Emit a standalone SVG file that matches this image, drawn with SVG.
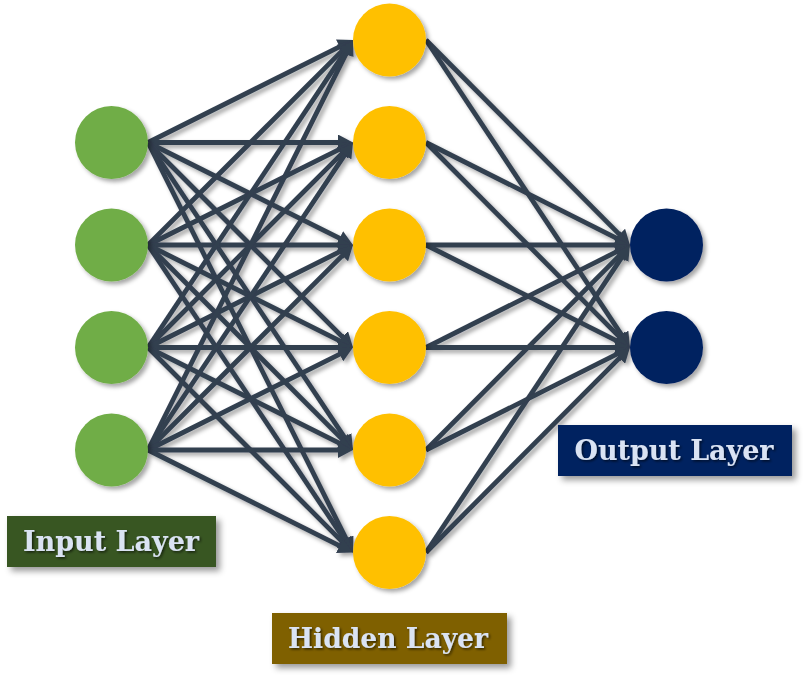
<svg xmlns="http://www.w3.org/2000/svg" width="809" height="690" viewBox="0 0 809 690">
  <style>
    .edge { stroke: #333f50; stroke-width: 4.8; fill: none; marker-end: url(#arrow); }
    .in { fill: #70ad47; }
    .hid { fill: #ffc000; }
    .out { fill: #002060; }
    .label { font-family: "DejaVu Serif", "Liberation Serif", serif; font-weight: bold; font-size: 27px; fill: #dae3f3; text-anchor: middle; }
  </style>
  <defs>
    <marker id="arrow" viewBox="0 0 15 16" markerWidth="15" markerHeight="16" markerUnits="userSpaceOnUse" refX="7" refY="8" orient="auto">
      <path d="M0,0 L15,8 L0,16 z" fill="#333f50"/>
    </marker>
    <filter id="shadow" x="-20%" y="-20%" width="140%" height="140%">
      <feDropShadow dx="3" dy="3" stdDeviation="2" flood-color="#000" flood-opacity="0.35"/>
    </filter>
    <filter id="boxShadow" x="-10%" y="-20%" width="130%" height="160%">
      <feDropShadow dx="4" dy="4" stdDeviation="3" flood-color="#000" flood-opacity="0.4"/>
    </filter>
    <filter id="textShadow" x="-10%" y="-30%" width="120%" height="160%">
      <feDropShadow dx="1.5" dy="1.5" stdDeviation="0.8" flood-color="#000" flood-opacity="0.6"/>
    </filter>
  </defs>
  <rect width="809" height="690" fill="#ffffff"/>

  <!-- connectors -->
  <g id="connectors" filter="url(#shadow)">
    <!-- input 1 -->
    <line class="edge" x1="148" y1="142.5" x2="345.84" y2="43.58"/>
    <line class="edge" x1="148" y1="142.5" x2="345" y2="142.5"/>
    <line class="edge" x1="148" y1="142.5" x2="345.84" y2="241.42"/>
    <line class="edge" x1="148" y1="142.5" x2="347.34" y2="341.84"/>
    <line class="edge" x1="148" y1="142.5" x2="348.56" y2="443.34"/>
    <line class="edge" x1="148" y1="142.5" x2="349.42" y2="545.34"/>
    <!-- input 2 -->
    <line class="edge" x1="148" y1="245" x2="347.34" y2="45.66"/>
    <line class="edge" x1="148" y1="245" x2="345.84" y2="146.08"/>
    <line class="edge" x1="148" y1="245" x2="345" y2="245"/>
    <line class="edge" x1="148" y1="245" x2="345.84" y2="343.92"/>
    <line class="edge" x1="148" y1="245" x2="347.34" y2="444.34"/>
    <line class="edge" x1="148" y1="245" x2="348.56" y2="545.84"/>
    <!-- input 3 -->
    <line class="edge" x1="148" y1="347.5" x2="348.56" y2="46.66"/>
    <line class="edge" x1="148" y1="347.5" x2="347.34" y2="148.16"/>
    <line class="edge" x1="148" y1="347.5" x2="345.84" y2="248.58"/>
    <line class="edge" x1="148" y1="347.5" x2="345" y2="347.5"/>
    <line class="edge" x1="148" y1="347.5" x2="345.84" y2="446.42"/>
    <line class="edge" x1="148" y1="347.5" x2="347.34" y2="546.84"/>
    <!-- input 4 -->
    <line class="edge" x1="148" y1="450" x2="349.42" y2="47.16"/>
    <line class="edge" x1="148" y1="450" x2="348.56" y2="149.16"/>
    <line class="edge" x1="148" y1="450" x2="347.34" y2="250.66"/>
    <line class="edge" x1="148" y1="450" x2="345.84" y2="351.08"/>
    <line class="edge" x1="148" y1="450" x2="345" y2="450"/>
    <line class="edge" x1="148" y1="450" x2="345.84" y2="548.92"/>
    <!-- hidden to output 1 -->
    <line class="edge" x1="426" y1="40" x2="624.34" y2="239.34"/>
    <line class="edge" x1="426" y1="142.5" x2="622.84" y2="241.42"/>
    <line class="edge" x1="426" y1="245" x2="622" y2="245"/>
    <line class="edge" x1="426" y1="347.5" x2="622.84" y2="248.58"/>
    <line class="edge" x1="426" y1="450" x2="624.34" y2="250.66"/>
    <line class="edge" x1="426" y1="552.5" x2="625.56" y2="251.66"/>
    <!-- hidden to output 2 -->
    <line class="edge" x1="426" y1="40" x2="625.56" y2="340.84"/>
    <line class="edge" x1="426" y1="142.5" x2="624.34" y2="341.84"/>
    <line class="edge" x1="426" y1="245" x2="622.84" y2="343.92"/>
    <line class="edge" x1="426" y1="347.5" x2="622" y2="347.5"/>
    <line class="edge" x1="426" y1="450" x2="622.84" y2="351.08"/>
    <line class="edge" x1="426" y1="552.5" x2="624.34" y2="353.16"/>
  </g>

  <!-- input layer -->
  <g id="in1" filter="url(#shadow)"><circle class="in" cx="111.5" cy="142.5" r="36.5"/></g>
  <g id="in2" filter="url(#shadow)"><circle class="in" cx="111.5" cy="245" r="36.5"/></g>
  <g id="in3" filter="url(#shadow)"><circle class="in" cx="111.5" cy="347.5" r="36.5"/></g>
  <g id="in4" filter="url(#shadow)"><circle class="in" cx="111.5" cy="450" r="36.5"/></g>

  <!-- hidden layer -->
  <g id="h1" filter="url(#shadow)"><circle class="hid" cx="389.5" cy="40" r="36.5"/></g>
  <g id="h2" filter="url(#shadow)"><circle class="hid" cx="389.5" cy="142.5" r="36.5"/></g>
  <g id="h3" filter="url(#shadow)"><circle class="hid" cx="389.5" cy="245" r="36.5"/></g>
  <g id="h4" filter="url(#shadow)"><circle class="hid" cx="389.5" cy="347.5" r="36.5"/></g>
  <g id="h5" filter="url(#shadow)"><circle class="hid" cx="389.5" cy="450" r="36.5"/></g>
  <g id="h6" filter="url(#shadow)"><circle class="hid" cx="389.5" cy="552.5" r="36.5"/></g>

  <!-- output layer -->
  <g id="o1" filter="url(#shadow)"><circle class="out" cx="666.5" cy="245" r="36.5"/></g>
  <g id="o2" filter="url(#shadow)"><circle class="out" cx="666.5" cy="347.5" r="36.5"/></g>

  <!-- layer labels -->
  <g id="label-input">
    <rect x="7" y="516" width="209" height="51" fill="#375623" filter="url(#boxShadow)"/>
    <text class="label" x="111" y="551" textLength="176" lengthAdjust="spacingAndGlyphs" filter="url(#textShadow)">Input Layer</text>
  </g>
  <g id="label-hidden">
    <rect x="272" y="613" width="235" height="51" fill="#7f6000" filter="url(#boxShadow)"/>
    <text class="label" x="388" y="648" textLength="200" lengthAdjust="spacingAndGlyphs" filter="url(#textShadow)">Hidden Layer</text>
  </g>
  <g id="label-output">
    <rect x="558" y="425" width="234" height="51" fill="#002060" filter="url(#boxShadow)"/>
    <text class="label" x="674" y="460" textLength="199" lengthAdjust="spacingAndGlyphs" filter="url(#textShadow)">Output Layer</text>
  </g>
</svg>
